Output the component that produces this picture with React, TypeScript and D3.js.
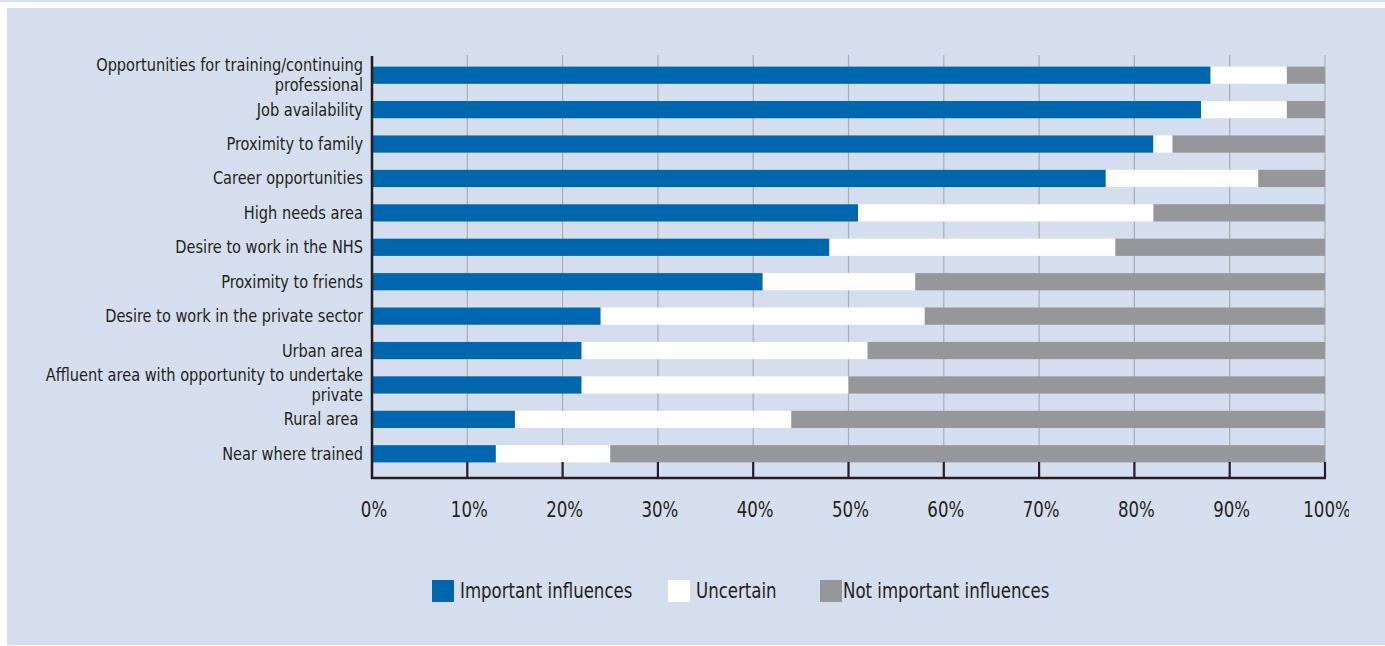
import React from "react";
import * as d3 from "d3";

const categories = [
  ["Opportunities for training/continuing", "professional"],
  ["Job availability"],
  ["Proximity to family"],
  ["Career opportunities"],
  ["High needs area"],
  ["Desire to work in the NHS"],
  ["Proximity to friends"],
  ["Desire to work in the private sector"],
  ["Urban area"],
  ["Affluent area with opportunity to undertake", "private"],
  ["Rural area "],
  ["Near where trained"],
];
const important = [88, 87, 82, 77, 51, 48, 41, 24, 22, 22, 15, 13];
const uncertain = [8, 9, 2, 16, 31, 30, 16, 34, 30, 28, 29, 12];
const notImportant = [4, 4, 16, 7, 18, 22, 43, 42, 48, 50, 56, 75];
const seriesNames = ["Important influences", "Uncertain", "Not important influences"];
const tickValues = [0, 10, 20, 30, 40, 50, 60, 70, 80, 90, 100];

const W = 1385;
const H = 646;
const colors = ["#0066ae", "#ffffff", "#96979b"];
const bg = "#d5deee";
const font = "'DejaVu Sans Condensed', 'Open Sans', sans-serif";
const textColor = "#231f20";
const SX = 0.9;

export default function App() {
  const x = d3.scaleLinear().domain([0, 100]).range([372, 1325]);
  const idx = categories.map((_, i) => String(i));
  const y = d3.scaleBand().domain(idx).range([58, 471]).paddingInner(0.5).paddingOuter(0.25);
  const rows = categories.map((c, i) => ({ key: String(i), a: important[i], b: uncertain[i], c: notImportant[i] }));
  const stack = d3.stack<any>().keys(["a", "b", "c"])(rows);
  const axisY = 478;
  const legend = [
    { x: 432, tx: 460 },
    { x: 668, tx: 696 },
    { x: 820, tx: 843 },
  ];
  return (
    <svg width={W} height={H} style={{ position: "absolute", left: 0, top: 0, display: "block" }} fontFamily={font}>
      <defs>
        <clipPath id="clipR">
          <rect x={0} y={0} width={1349} height={H} />
        </clipPath>
      </defs>
      <rect x={0} y={0} width={W} height={H} fill="#ffffff" />
      <rect x={0} y={0} width={W} height={2} fill={bg} />
      <rect x={7} y={8} width={W - 7} height={637} fill={bg} />
      {/* gridlines */}
      {tickValues.slice(1).map((t) => (
        <line key={t} x1={x(t)} x2={x(t)} y1={55} y2={axisY} stroke="#a9abb0" strokeWidth={1.2} />
      ))}
      {/* bars */}
      {stack.map((s, si) =>
        s.map((d: any, i: number) => (
          <rect
            key={si + "-" + i}
            x={x(d[0])}
            y={y(String(i))!}
            width={x(d[1]) - x(d[0])}
            height={y.bandwidth()}
            fill={colors[si]}
          />
        ))
      )}
      {/* axes */}
      <line x1={372} x2={372} y1={56} y2={axisY + 1} stroke={textColor} strokeWidth={2.5} />
      <line x1={371} x2={x(100) + 1} y1={axisY} y2={axisY} stroke={textColor} strokeWidth={2.5} />
      {tickValues.slice(1).map((t) => (
        <line key={"t" + t} x1={x(t)} x2={x(t)} y1={axisY - 16} y2={axisY} stroke={textColor} strokeWidth={2.2} />
      ))}
      <g clipPath="url(#clipR)">
        {tickValues.map((t) => (
          <g key={"l" + t} transform={`translate(${x(t) + 2},517) scale(${SX},1)`}>
            <text x={0} y={0} textAnchor="middle" fontSize={20.5} fill={textColor}>
              {t + "%"}
            </text>
          </g>
        ))}
      </g>
      {/* category labels */}
      {categories.map((lines, i) => {
        const cy = y(String(i))! + y.bandwidth() / 2;
        const n = lines.length;
        return (
          <g key={"c" + i} transform={`translate(363,0) scale(${SX},1)`}>
            <text textAnchor="end" fontSize={18} fill={textColor} style={{ whiteSpace: "pre" }}>
              {lines.map((ln, j) => (
                <tspan key={j} x={0} y={cy + 6 + (j - (n - 1) / 2) * 20}>
                  {ln}
                </tspan>
              ))}
            </text>
          </g>
        );
      })}
      {/* legend */}
      {seriesNames.map((nm, i) => (
        <g key={nm}>
          <rect x={legend[i].x} y={580} width={22} height={22} fill={colors[i]} />
          <g transform={`translate(${legend[i].tx},598) scale(${SX},1)`}>
            <text x={0} y={0} fontSize={20.5} fill={textColor}>
              {nm}
            </text>
          </g>
        </g>
      ))}
    </svg>
  );
}
